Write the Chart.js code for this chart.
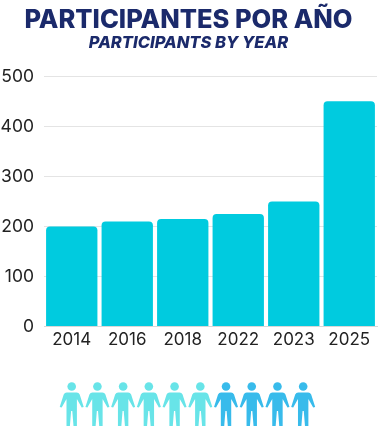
<!DOCTYPE html>
<html>
<head>
<meta charset="utf-8">
<script src="https://cdn.jsdelivr.net/npm/chart.js@4"></script>
<style>
  html, body { margin: 0; padding: 0; background: #fff; }
  #wrap { width: 378px; height: 426px; position: relative; }
</style>
</head>
<body>
<div id="wrap"><canvas id="myChart" width="378" height="426"></canvas></div>
<script>
const years = ['2014', '2016', '2018', '2022', '2023', '2025'];
const participants = [200, 210, 215, 225, 250, 450];
const yTicks = [0, 100, 200, 300, 400, 500];
const titleEs = 'PARTICIPANTES POR AÑO';
const titleEn = 'PARTICIPANTS BY YEAR';
const peopleColors = ['#68E4E8', '#68E4E8', '#68E4E8', '#68E4E8', '#68E4E8', '#68E4E8',
                      '#38BBEB', '#38BBEB', '#38BBEB', '#38BBEB'];

// row of little people under the chart
const peoplePlugin = {
  id: 'people',
  afterDraw(chart) {
    const ctx = chart.ctx;
    peopleColors.forEach((color, i) => {
      const cx = 71.7 + i * 25.72;
      const top = 382;
      ctx.save();
      ctx.fillStyle = color;
      ctx.beginPath();
      ctx.arc(cx, top + 4.5, 4.3, 0, Math.PI * 2);
      ctx.fill();
      ctx.beginPath();
      ctx.moveTo(cx - 5, top + 10.5);
      ctx.lineTo(cx + 5, top + 10.5);
      ctx.quadraticCurveTo(cx + 7, top + 10.5, cx + 8, top + 12.5);
      ctx.lineTo(cx + 12, top + 25);
      ctx.lineTo(cx + 10, top + 25.5);
      ctx.lineTo(cx + 5.2, top + 17);
      ctx.lineTo(cx + 5.2, top + 44);
      ctx.lineTo(cx + 1.8, top + 44);
      ctx.lineTo(cx + 0.6, top + 29);
      ctx.lineTo(cx - 0.6, top + 29);
      ctx.lineTo(cx - 1.8, top + 44);
      ctx.lineTo(cx - 5.2, top + 44);
      ctx.lineTo(cx - 5.2, top + 17);
      ctx.lineTo(cx - 10, top + 25.5);
      ctx.lineTo(cx - 12, top + 25);
      ctx.lineTo(cx - 8, top + 12.5);
      ctx.quadraticCurveTo(cx - 7, top + 10.5, cx - 5, top + 10.5);
      ctx.closePath();
      ctx.fill();
      ctx.restore();
    });
  }
};

const config = {
  type: 'bar',
  data: {
    labels: years,
    datasets: [{
      label: 'Participants',
      data: participants,
      backgroundColor: '#00CBDF',
      borderRadius: { topLeft: 4, topRight: 4 },
      borderSkipped: 'bottom',
      barPercentage: 0.925,
      categoryPercentage: 1
    }]
  },
  options: {
    responsive: false,
    animation: false,
    layout: { padding: { left: 0, right: 1, top: 0, bottom: 73 } },
    plugins: {
      legend: { display: false },
      tooltip: { enabled: false },
      title: {
        display: true,
        text: titleEs,
        color: '#1B2A6B',
        font: { family: 'Inter', size: 25.5, weight: '800', lineHeight: 1 },
        padding: { top: 8, bottom: 0 }
      },
      subtitle: {
        display: true,
        text: titleEn,
        color: '#1B2A6B',
        font: { family: 'Inter', size: 16.5, weight: '800', style: 'italic' },
        padding: { top: 0, bottom: 23 }
      }
    },
    scales: {
      x: {
        grid: { display: false, drawTicks: false },
        border: { color: '#D8D8D8' },
        ticks: { color: '#222', font: { family: 'Inter', size: 17 }, padding: 3, maxRotation: 0 }
      },
      y: {
        min: 0,
        max: 500,
        afterBuildTicks(scale) { scale.ticks = yTicks.map(v => ({ value: v })); },
        afterFit(scale) { scale.width = 44; },
        grid: { color: '#E4E4E4', drawTicks: false },
        border: { display: false },
        ticks: { color: '#222', font: { family: 'Inter', size: 17.5 }, padding: 10 }
      }
    }
  },
  plugins: [peoplePlugin]
};

const ctx = document.getElementById('myChart').getContext('2d');
const myChart = new Chart(ctx, config);
</script>
</body>
</html>
